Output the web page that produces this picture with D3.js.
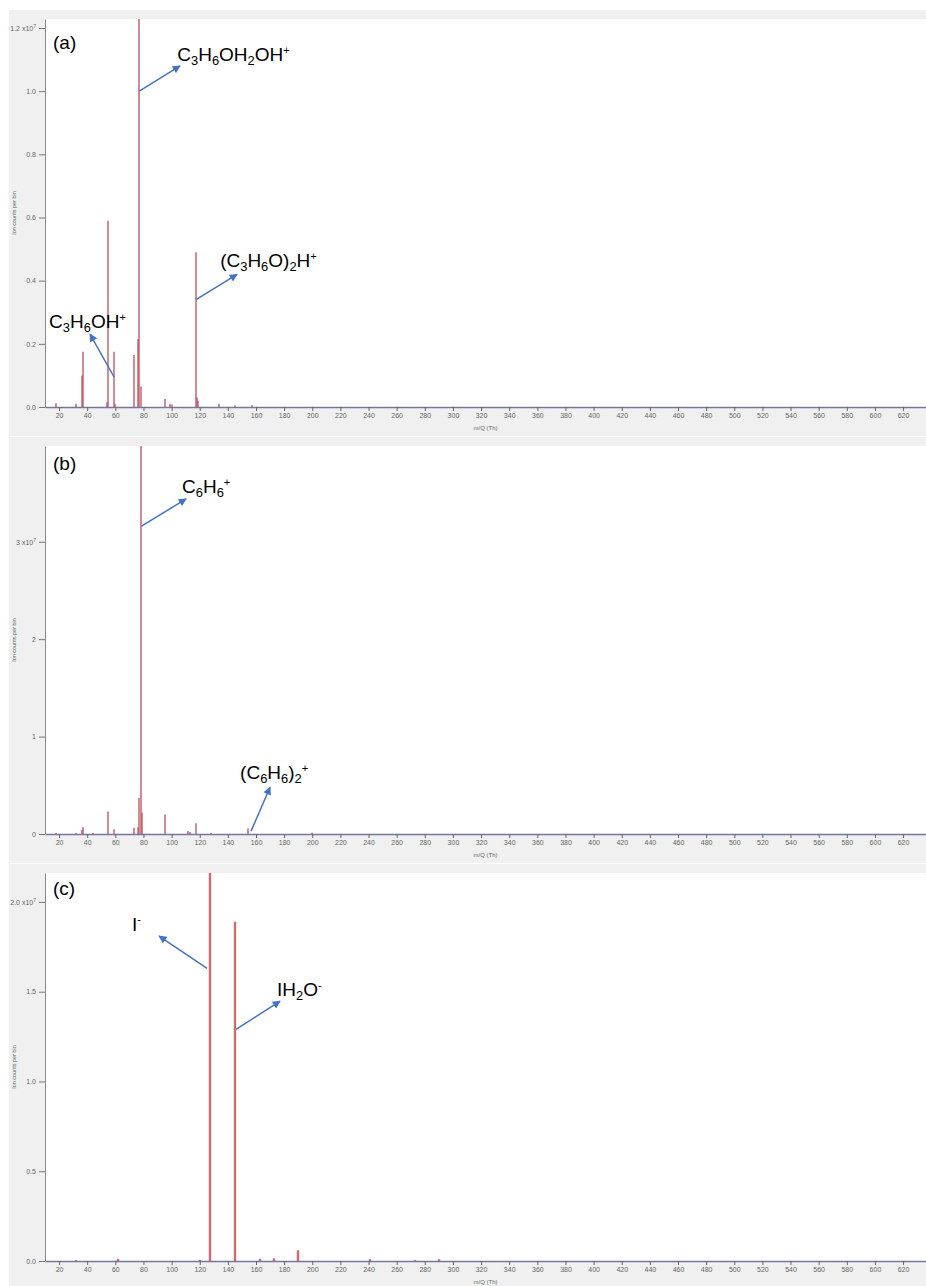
<!DOCTYPE html>
<html>
<head>
<meta charset="utf-8">
<script src="https://cdn.jsdelivr.net/npm/d3@7"></script>
<style>
  body { margin: 0; background: #fff; }
  svg { display: block; }
</style>
</head>
<body>
<svg id="chart" width="926" height="1286"></svg>
<script>
// peak positions (m/Q, Th) and heights (ion counts per bin, x10^7)
var mzA     = [18, 32, 36, 37, 54, 55, 59, 60, 73, 76, 77, 78, 95, 99, 100, 117, 118, 119, 134, 145, 157];
var countsA = [0.012, 0.01, 0.10, 0.175, 0.015, 0.59, 0.175, 0.01, 0.165, 0.215, 1.30, 0.065, 0.025, 0.01, 0.008, 0.49, 0.03, 0.02, 0.01, 0.005, 0.006];

var mzB     = [18, 32, 36, 37, 44, 55, 59, 73, 76, 77, 78, 79, 95, 112, 113, 117, 128, 154, 200];
var countsB = [0.01, 0.01, 0.04, 0.07, 0.01, 0.23, 0.05, 0.065, 0.07, 0.37, 4.2, 0.22, 0.20, 0.03, 0.02, 0.11, 0.01, 0.06, 0.012];

var mzC     = [32, 62, 120, 127, 145, 163, 173, 190, 241, 273, 290];
var countsC = [0.005, 0.012, 0.005, 2.5, 1.89, 0.012, 0.015, 0.06, 0.01, 0.005, 0.01];

var mzTicks = d3.range(20, 621, 20);
var yTicksA = [0, 0.2, 0.4, 0.6, 0.8, 1.0, 1.2];
var yTicksB = [0, 1, 2, 3];
var yTicksC = [0, 0.5, 1.0, 1.5, 2.0];

// labels: from/to are arrow ends, at is text start, all in data units
var annotA = [
  {text: "C_3H_6OH_2OH^+", from: [77, 1.0], to: [106, 1.08], at: [104, 1.095]},
  {text: "(C_3H_6O)_2H^+", from: [117.4, 0.34], to: [146.5, 0.42], at: [134.5, 0.443]},
  {text: "C_3H_6OH^+", from: [59.1, 0.095], to: [42, 0.231], at: [12.9, 0.25]}
];
var annotB = [
  {text: "C_6H_6^+", from: [78.6, 3.16], to: [110.3, 3.44], at: [107.4, 3.50]},
  {text: "(C_6H_6)_2^+", from: [156.5, 0.03], to: [170, 0.48], at: [148.7, 0.563]}
];
var annotC = [
  {text: "I^-", from: [125.2, 1.63], to: [91.1, 1.81], at: [71.9, 1.84]},
  {text: "IH_2O^-", from: [145.8, 1.29], to: [177.1, 1.447], at: [175, 1.475]}
];

var panels = [
  {name: "(a)", mz: mzA, counts: countsA, yTicks: yTicksA, yMax: 1.2285, fmt: d3.format(".1f"), peakWidth: 1.3, nameDy: 30, notes: annotA},
  {name: "(b)", mz: mzB, counts: countsB, yTicks: yTicksB, yMax: 3.983, fmt: d3.format("d"), peakWidth: 1.3, nameDy: 24, notes: annotB},
  {name: "(c)", mz: mzC, counts: countsC, yTicks: yTicksC, yMax: 2.161, fmt: d3.format(".1f"), peakWidth: 2.4, nameDy: 22, notes: annotC}
];

var width = 926,
    plotL = 45,
    plotR = 926,
    firstTop = 19,
    panelH = 427,
    plotH = 388;

var svg = d3.select("#chart");
var font = "'Liberation Sans', Arial, sans-serif";

var x = d3.scaleLinear().domain([10, 636.3]).range([plotL, plotR]);

var defs = svg.append("defs");
defs.append("marker")
    .attr("id", "head")
    .attr("viewBox", "0 0 10 10")
    .attr("refX", 9).attr("refY", 5)
    .attr("markerUnits", "userSpaceOnUse")
    .attr("markerWidth", 9).attr("markerHeight", 8)
    .attr("orient", "auto")
  .append("path")
    .attr("d", "M0,0L10,5L0,10z")
    .attr("fill", "#4472c4");

// chemical formula with _sub and ^sup single characters
function formula(sel, str, px, py, size) {
  var t = sel.append("text")
      .attr("x", px).attr("y", py)
      .attr("font-family", font)
      .attr("font-size", size)
      .attr("fill", "#000");
  var shift = 0;
  str.match(/_.|\^.|[^_^]+/g).forEach(function(tok) {
    var s = 0, fs = size, txt = tok;
    if (tok[0] === "_") { s = size * 0.22; fs = size * 0.68; txt = tok[1]; }
    else if (tok[0] === "^") { s = -size * 0.38; fs = size * 0.58; txt = tok[1]; }
    t.append("tspan")
        .attr("dy", s - shift)
        .attr("font-size", fs)
        .text(txt);
    shift = s;
  });
}

panels.forEach(function(p, i) {
  var top = firstTop + i * panelH,
      base = top + plotH;

  var y = d3.scaleLinear().domain([0, p.yMax]).range([base, top]);

  var g = svg.append("g");

  g.append("rect")
      .attr("x", 9).attr("y", top - 9)
      .attr("width", width - 9).attr("height", panelH - 1)
      .attr("fill", "#f0f0f0");

  g.append("rect")
      .attr("x", plotL).attr("y", top)
      .attr("width", plotR - plotL).attr("height", plotH)
      .attr("fill", "#fff");

  defs.append("clipPath").attr("id", "clip" + i)
    .append("rect")
      .attr("x", plotL).attr("y", top)
      .attr("width", plotR - plotL).attr("height", plotH);

  var peaks = p.mz.map(function(d, k) { return {mz: d, c: p.counts[k]}; });

  // centre peaks on pixel edges so each line spreads over two columns
  var px = function(d) { return Math.round(x(d.mz)); };

  g.append("g")
      .attr("clip-path", "url(#clip" + i + ")")
    .selectAll("line")
    .data(peaks)
    .enter().append("line")
      .attr("x1", px)
      .attr("x2", px)
      .attr("y1", base)
      .attr("y2", function(d) { return y(d.c); })
      .attr("stroke", i === 2 ? "#d06a70" : "#bc4d5a")
      .attr("stroke-width", p.peakWidth);

  // x axis
  var xa = g.append("g")
      .attr("transform", "translate(0," + base + ")")
      .call(d3.axisBottom(x).tickValues(mzTicks).tickSize(4).tickSizeOuter(0).tickPadding(2));
  xa.select(".domain").attr("stroke", "#7676a2").attr("stroke-width", 1.6);
  xa.selectAll(".tick line").attr("stroke", "#666");
  xa.selectAll(".tick text").attr("fill", "#666").attr("font-size", 7).attr("font-family", font);

  g.append("text")
      .attr("x", (plotL + plotR) / 2).attr("y", base + 23)
      .attr("text-anchor", "middle")
      .attr("font-family", font).attr("font-size", 6)
      .attr("fill", "#666")
      .text("m/Q (Th)");

  // y axis
  var ya = g.append("g")
      .attr("transform", "translate(" + plotL + ",0)")
      .call(d3.axisLeft(y).tickValues(p.yTicks).tickFormat(p.fmt).tickSize(6).tickSizeOuter(0).tickPadding(3));
  ya.select(".domain").attr("stroke", "#888");
  ya.selectAll(".tick line").attr("stroke", "#777");
  ya.selectAll(".tick text").attr("fill", "#666").attr("font-size", 7).attr("font-family", font);
  var topTick = p.yTicks[p.yTicks.length - 1];
  ya.selectAll(".tick text")
    .filter(function(d) { return d === topTick; })
    .each(function(d) {
      var t = d3.select(this).text(p.fmt(d) + " x10");
      t.append("tspan").attr("dy", -3).attr("font-size", 5).text("7");
    });

  g.append("text")
      .attr("transform", "translate(16," + (top + plotH / 2) + ") rotate(-90)")
      .attr("text-anchor", "middle")
      .attr("font-family", font).attr("font-size", 5.5)
      .attr("fill", "#666")
      .text("Ion counts per bin");

  g.append("text")
      .attr("x", plotL + 8).attr("y", top + p.nameDy)
      .attr("font-family", font).attr("font-size", 19)
      .text(p.name);

  p.notes.forEach(function(n) {
    g.append("line")
        .attr("x1", x(n.from[0])).attr("y1", y(n.from[1]))
        .attr("x2", x(n.to[0])).attr("y2", y(n.to[1]))
        .attr("stroke", "#4472c4")
        .attr("stroke-width", 1.5)
        .attr("marker-end", "url(#head)");
    formula(g, n.text, x(n.at[0]), y(n.at[1]), 19);
  });
});
</script>
</body>
</html>
